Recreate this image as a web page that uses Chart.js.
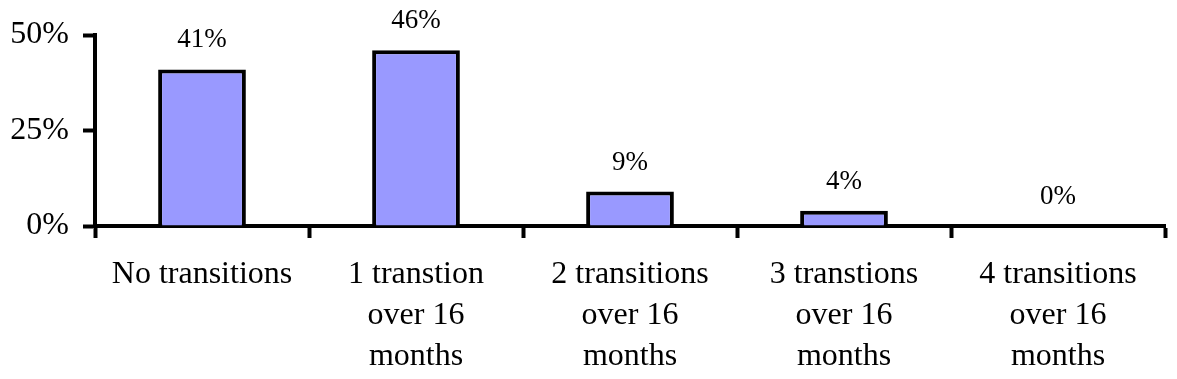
<!DOCTYPE html>
<html>
<head>
<meta charset="utf-8">
<script src="https://cdn.jsdelivr.net/npm/chart.js@4.4.0/dist/chart.umd.min.js"></script>
<style>
  html, body { margin: 0; padding: 0; background: #ffffff; }
  #wrap { width: 1177px; height: 379px; }
</style>
</head>
<body>
<div id="wrap"><canvas id="c" width="1177" height="379"></canvas></div>
<script>
const categories = [
  ["No transitions"],
  ["1 transtion", "over 16", "months"],
  ["2 transitions", "over 16", "months"],
  ["3 transtions", "over 16", "months"],
  ["4 transitions", "over 16", "months"]
];
const values = [41, 46, 9, 4, 0];
const yTickValues = [0, 25, 50];
const yTickLabels = ["0%", "25%", "50%"];

const FONT = '"Liberation Serif", "Times New Roman", serif';

const valueLabels = {
  id: 'valueLabels',
  afterDatasetsDraw(chart) {
    const ctx = chart.ctx;
    const meta = chart.getDatasetMeta(0);
    ctx.save();
    ctx.font = '27px ' + FONT;
    ctx.fillStyle = '#000';
    ctx.textAlign = 'center';
    ctx.textBaseline = 'alphabetic';
    meta.data.forEach((bar, i) => {
      ctx.fillText(values[i] + '%', bar.x, bar.y - 22);
    });
    ctx.restore();
  }
};

new Chart(document.getElementById('c'), {
  type: 'bar',
  data: {
    labels: categories,
    datasets: [{
      data: values,
      backgroundColor: '#9999FF',
      borderColor: '#000000',
      borderWidth: 4,
      borderSkipped: 'bottom',
      barPercentage: 0.41,
      categoryPercentage: 1.0
    }]
  },
  options: {
    responsive: false,
    animation: false,
    devicePixelRatio: 1,
    layout: { padding: { top: 35, right: 12, left: 0, bottom: 0 } },
    plugins: {
      legend: { display: false },
      tooltip: { enabled: false },
      title: { display: false }
    },
    scales: {
      x: {
        offset: true,
        grid: {
          offset: true,
          drawOnChartArea: false,
          drawTicks: true,
          tickLength: 12,
          tickWidth: 4,
          tickColor: '#000'
        },
        border: { display: true, color: '#000', width: 4 },
        ticks: {
          color: '#000',
          font: { family: FONT, size: 32, lineHeight: 1.28 },
          padding: 16,
          maxRotation: 0,
          minRotation: 0,
          autoSkip: false
        },
        afterFit(scale) { scale.height = 153; }
      },
      y: {
        min: 0,
        max: 50,
        afterBuildTicks(scale) {
          scale.ticks = yTickValues.map(v => ({ value: v }));
        },
        grid: {
          drawOnChartArea: false,
          drawTicks: true,
          tickLength: 12,
          tickWidth: 4,
          tickColor: '#000'
        },
        border: { display: true, color: '#000', width: 4 },
        ticks: {
          color: '#000',
          font: { family: FONT, size: 32 },
          padding: 14,
          callback(value) {
            const idx = yTickValues.indexOf(value);
            return idx >= 0 ? yTickLabels[idx] : '';
          }
        },
        afterFit(scale) { scale.width = 95; }
      }
    }
  },
  plugins: [valueLabels]
});
</script>
</body>
</html>
